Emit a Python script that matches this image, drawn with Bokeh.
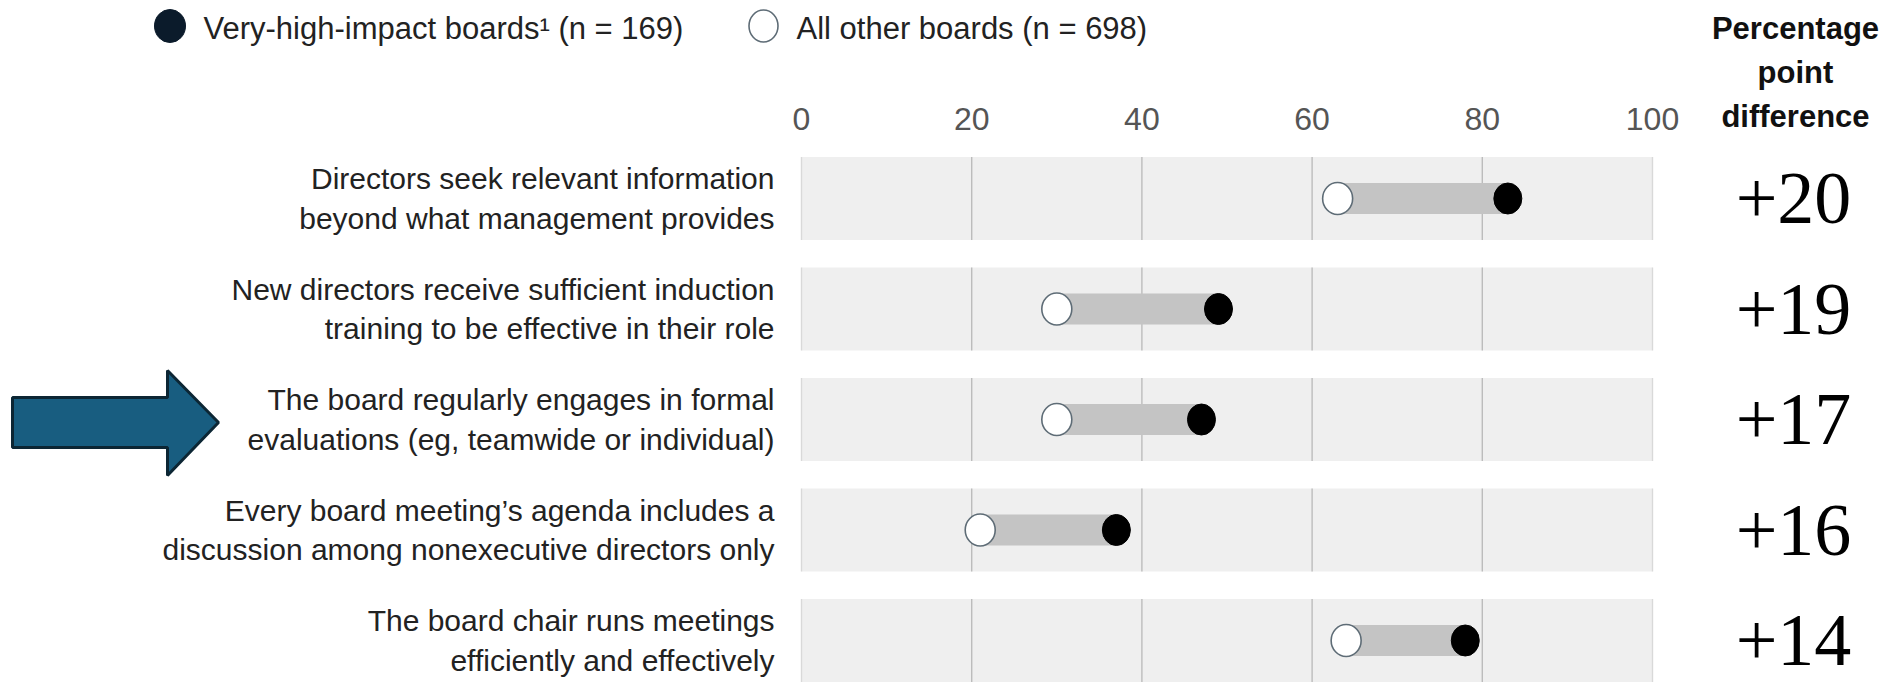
from bokeh.plotting import figure
from bokeh.models import Range1d, LinearAxis, FixedTicker
from bokeh.embed import file_html
from bokeh.resources import INLINE
from bokeh.core.properties import value

# ---------------- data ----------------
categories = [
    "Directors seek relevant information\nbeyond what management provides",
    "New directors receive sufficient induction\ntraining to be effective in their role",
    "The board regularly engages in formal\nevaluations (eg, teamwide or individual)",
    "Every board meeting\u2019s agenda includes a\ndiscussion among nonexecutive directors only",
    "The board chair runs meetings\nefficiently and effectively",
]
very_high_impact = [83, 49, 47, 37, 78]
all_other = [63, 30, 30, 21, 64]
tick_values = [0, 20, 40, 60, 80, 100]
legend_labels = ["Very-high-impact boards\u00b9 (n = 169)", "All other boards (n = 698)"]
header_text = "Percentage\npoint\ndifference"

# ---------------- layout helpers (pixels -> data) ----------------
W, H = 1896, 685
X0PX, X100PX = 801, 1652
PPU = (X100PX - X0PX) / 100.0
X_START = -X0PX / PPU
X_END = (W - X0PX) / PPU
ROW0PX, ROWSTEP = 198.0, 110.5
Y_TOP = -ROW0PX / ROWSTEP
Y_BOTTOM = (H - ROW0PX) / ROWSTEP


def px2x(px):
    return X_START + px / PPU


def py2y(py):
    return (py - ROW0PX) / ROWSTEP


rows = list(range(len(categories)))
diffs = ["+%d" % (a - b) for a, b in zip(very_high_impact, all_other)]

p = figure(width=W, height=H,
           x_range=Range1d(X_START, X_END), y_range=Range1d(Y_BOTTOM, Y_TOP),
           x_axis_type=None, y_axis_type=None,
           output_backend="svg", toolbar_location=None,
           min_border=0, min_border_left=0, min_border_right=0,
           min_border_top=0, min_border_bottom=0,
           outline_line_color=None, background_fill_color="white",
           border_fill_color="white")
p.xgrid.visible = False
p.ygrid.visible = False

BAND_H = 83 / ROWSTEP
BAR_H = 31 / ROWSTEP

# background bands
p.hbar(y=rows, left=[tick_values[0]] * len(rows), right=[tick_values[-1]] * len(rows),
       height=BAND_H, fill_color="#efefef", line_color=None)

# vertical grid segments inside each band
gx, gy0, gy1, gc = [], [], [], []
for r in rows:
    for t in tick_values:
        gx.append(t)
        gy0.append(r - BAND_H / 2)
        gy1.append(r + BAND_H / 2)
        gc.append("#d9d9d9" if t in (tick_values[0], tick_values[-1]) else "#bcbcbc")
p.segment(x0=gx, y0=gy0, x1=gx, y1=gy1, line_color=gc, line_width=1.4)

# connector bars
p.hbar(y=rows, left=all_other, right=very_high_impact, height=BAR_H,
       fill_color="#c4c4c4", line_color=None)

# markers
p.ellipse(x=all_other, y=rows, width=30, height=32, width_units="screen",
          height_units="screen", fill_color="white", line_color="#5e6c76", line_width=1.6)
p.ellipse(x=very_high_impact, y=rows, width=28, height=31, width_units="screen",
          height_units="screen", fill_color="black", line_color="black", line_width=1)

# x axis (tick labels at top)
ax = LinearAxis(fixed_location=py2y(143), ticker=FixedTicker(ticks=tick_values),
                axis_line_color=None, major_tick_line_color=None,
                minor_tick_line_color=None, major_label_standoff=8,
                major_label_text_font="Liberation Sans",
                major_label_text_font_size="32px",
                major_label_text_color="#555555")
p.add_layout(ax, "above")

# category labels
p.text(x=[px2x(774)] * len(rows), y=rows, text=categories,
       text_font=value("Liberation Sans"), text_font_size=value("30px"),
       text_align="right", text_baseline="middle", text_line_height=1.2,
       text_color="#222222")

# percentage point differences
p.text(x=[px2x(1793)] * len(rows), y=rows, text=diffs,
       text_font=value("Liberation Serif"), text_font_size=value("74px"),
       text_align="center", text_baseline="middle", text_color="#000000")

# header
p.text(x=[px2x(1795)], y=[py2y(72)], text=[header_text],
       text_font=value("Liberation Sans"), text_font_size=value("31px"),
       text_font_style="bold", text_align="center", text_baseline="middle",
       text_line_height=1.25, text_color="#111111")

# legend
p.ellipse(x=[px2x(169.5)], y=[py2y(25.5)], width=31, height=33, width_units="screen",
          height_units="screen", fill_color="#0b1b2b", line_color="#0b1b2b")
p.ellipse(x=[px2x(763)], y=[py2y(25.5)], width=29, height=32, width_units="screen",
          height_units="screen", fill_color="white", line_color="#5e6c76", line_width=1.6)
p.text(x=[px2x(203), px2x(796)], y=[py2y(28)] * 2, text=legend_labels,
       text_font=value("Liberation Sans"), text_font_size=value("31px"),
       text_align="left", text_baseline="middle", text_color="#222222")

# highlight arrow pointing at the third row
arrow_px = [(12, 397), (167, 397), (167, 370), (218, 422), (167, 475), (167, 447), (12, 447)]
p.patch(x=[px2x(a) for a, b in arrow_px], y=[py2y(b) for a, b in arrow_px],
        fill_color="#185d80", line_color="#0c2634", line_width=3)

open("out.html", "w").write(file_html(p, INLINE))
